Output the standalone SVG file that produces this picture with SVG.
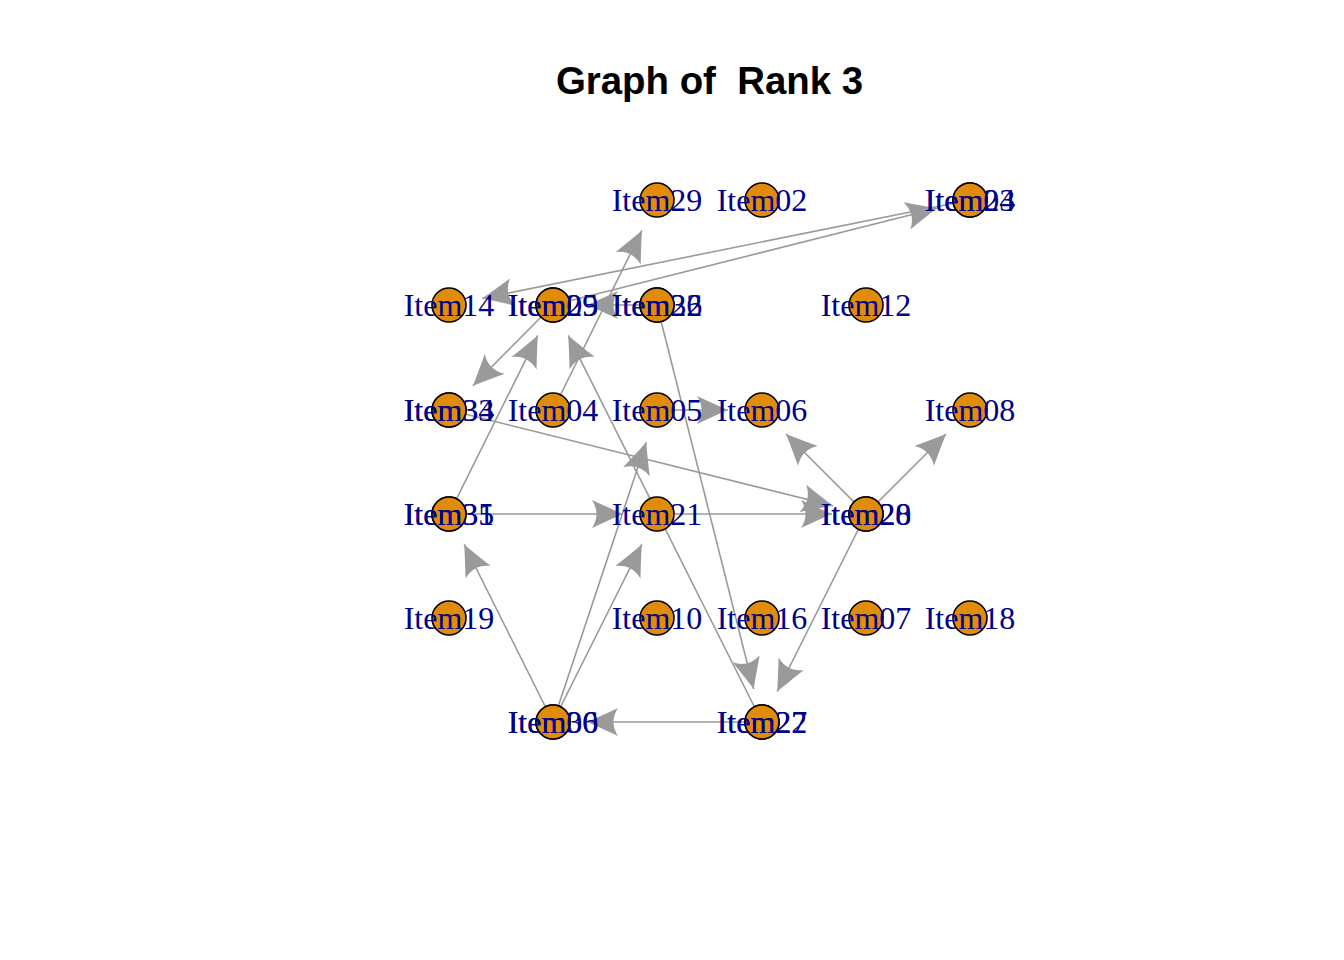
<svg xmlns="http://www.w3.org/2000/svg" width="1344" height="960" viewBox="0 0 1344 960">
<style>
.e{stroke:#9a9a9a;stroke-width:1.6;fill:none;marker-end:url(#ah)}
circle{fill:#E08C08;stroke:#000;stroke-width:1.6}
text.l{font-family:"Liberation Serif","Times New Roman",serif;font-size:32px;fill:#00008B;text-anchor:middle}
.t{font-family:"Liberation Sans",Arial,sans-serif;font-size:38.4px;font-weight:bold;text-anchor:middle;fill:#000;white-space:pre}
</style>
<defs>
<marker id="ah" markerUnits="userSpaceOnUse" viewBox="-34 -17 36 34" refX="0" refY="0" markerWidth="36" markerHeight="34" orient="auto">
<path d="M0,0 Q-14,-6 -31,-14 Q-22,0 -31,14 Q-14,6 0,0 Z" fill="#9a9a9a"/>
</marker>
</defs>
<rect width="1344" height="960" fill="#fff"/>
<text class="t" x="709.5" y="94" xml:space="preserve">Graph of  Rank 3</text>
<g id="edges">
<line class="e" x1="970" y1="200" x2="482.3" y2="298.3"/>
<line class="e" x1="553" y1="305" x2="937" y2="208.3"/>
<line class="e" x1="657" y1="305" x2="587" y2="305"/>
<line class="e" x1="553" y1="305" x2="472.9" y2="385.8"/>
<line class="e" x1="449" y1="514" x2="537.8" y2="335.4"/>
<line class="e" x1="762" y1="722" x2="568.2" y2="335.4"/>
<line class="e" x1="553" y1="410" x2="641.9" y2="230.5"/>
<line class="e" x1="657" y1="305" x2="753.7" y2="689"/>
<line class="e" x1="657" y1="410" x2="728" y2="410"/>
<line class="e" x1="449" y1="410" x2="833" y2="505.8"/>
<line class="e" x1="866" y1="514" x2="786" y2="434"/>
<line class="e" x1="866" y1="514" x2="946" y2="434"/>
<line class="e" x1="866" y1="514" x2="777.2" y2="691.6"/>
<line class="e" x1="449" y1="514" x2="623" y2="514"/>
<line class="e" x1="657" y1="514" x2="832" y2="514"/>
<line class="e" x1="553" y1="722" x2="646.2" y2="442.3"/>
<line class="e" x1="553" y1="722" x2="641.8" y2="544.4"/>
<line class="e" x1="553" y1="722" x2="464.2" y2="544.4"/>
<line class="e" x1="762" y1="722" x2="587" y2="722"/>
</g>
<g id="n29"><circle cx="657" cy="200" r="17"/><text class="l" x="657" y="211">Item29</text></g>
<g id="n02"><circle cx="762" cy="200" r="17"/><text class="l" x="762" y="211">Item02</text></g>
<g id="n24"><circle cx="970" cy="200" r="17"/><g id="n03"><circle cx="970" cy="200" r="17"/><text class="l" x="970" y="211">Item03</text></g><text class="l" x="970" y="211">Item24</text></g>
<g id="n14"><circle cx="449" cy="305" r="17"/><text class="l" x="449" y="316">Item14</text></g>
<g id="n25"><circle cx="553" cy="305" r="17"/><g id="n09"><circle cx="553" cy="305" r="17"/><text class="l" x="553" y="316">Item09</text></g><text class="l" x="553" y="316">Item25</text></g>
<g id="n32"><circle cx="657" cy="305" r="17"/><g id="n26"><circle cx="657" cy="305" r="17"/><text class="l" x="657" y="316">Item26</text></g><text class="l" x="657" y="316">Item32</text></g>
<g id="n12"><circle cx="866" cy="305" r="17"/><text class="l" x="866" y="316">Item12</text></g>
<g id="n34"><circle cx="449" cy="410" r="17"/><g id="n33"><circle cx="449" cy="410" r="17"/><text class="l" x="449" y="421">Item33</text></g><text class="l" x="449" y="421">Item34</text></g>
<g id="n04"><circle cx="553" cy="410" r="17"/><text class="l" x="553" y="421">Item04</text></g>
<g id="n05"><circle cx="657" cy="410" r="17"/><text class="l" x="657" y="421">Item05</text></g>
<g id="n06"><circle cx="762" cy="410" r="17"/><text class="l" x="762" y="421">Item06</text></g>
<g id="n08"><circle cx="970" cy="410" r="17"/><text class="l" x="970" y="421">Item08</text></g>
<g id="n35"><circle cx="449" cy="514" r="17"/><g id="n31"><circle cx="449" cy="514" r="17"/><text class="l" x="449" y="525">Item31</text></g><text class="l" x="449" y="525">Item35</text></g>
<g id="n21"><circle cx="657" cy="514" r="17"/><text class="l" x="657" y="525">Item21</text></g>
<g id="n28"><circle cx="866" cy="514" r="17"/><g id="n20"><circle cx="866" cy="514" r="17"/><text class="l" x="866" y="525">Item20</text></g><text class="l" x="866" y="525">Item28</text></g>
<g id="n19"><circle cx="449" cy="618" r="17"/><text class="l" x="449" y="629">Item19</text></g>
<g id="n10"><circle cx="657" cy="618" r="17"/><text class="l" x="657" y="629">Item10</text></g>
<g id="n16"><circle cx="762" cy="618" r="17"/><text class="l" x="762" y="629">Item16</text></g>
<g id="n07"><circle cx="866" cy="618" r="17"/><text class="l" x="866" y="629">Item07</text></g>
<g id="n18"><circle cx="970" cy="618" r="17"/><text class="l" x="970" y="629">Item18</text></g>
<g id="n36"><circle cx="553" cy="722" r="17"/><g id="n00"><circle cx="553" cy="722" r="17"/><text class="l" x="553" y="733">Item00</text></g><text class="l" x="553" y="733">Item36</text></g>
<g id="n27"><circle cx="762" cy="722" r="17"/><g id="n22"><circle cx="762" cy="722" r="17"/><text class="l" x="762" y="733">Item22</text></g><text class="l" x="762" y="733">Item27</text></g>
</svg>
